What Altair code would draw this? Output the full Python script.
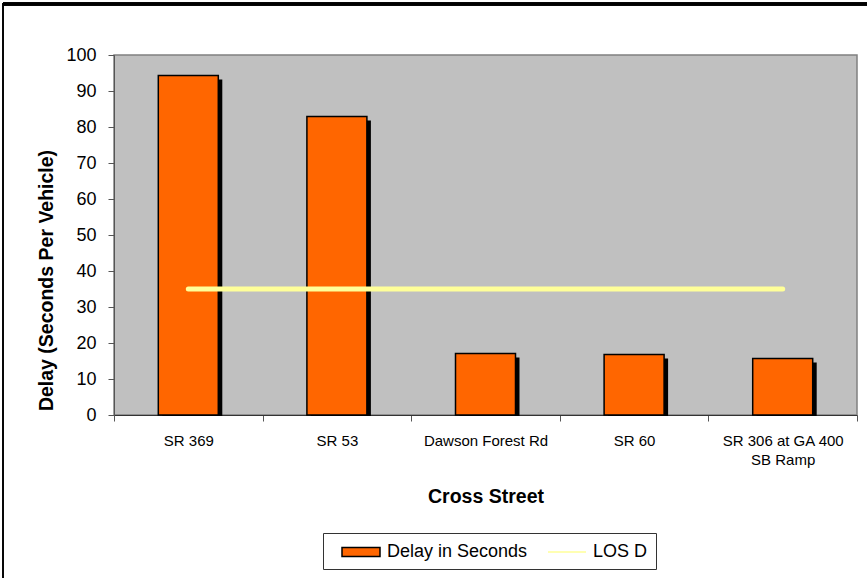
import altair as alt
import pandas as pd

categories = ["SR 369", "SR 53", "Dawson Forest Rd", "SR 60", "SR 306 at GA 400 SB Ramp"]
delay = [94.3, 82.9, 17.1, 16.8, 15.7]
los_d = [35, 35, 35, 35, 35]
series_names = ["Delay in Seconds", "LOS D"]

df = pd.DataFrame({"street": categories, "delay": delay, "los": los_d, "zero": [0] * 5})
leg_df = pd.DataFrame({"series": series_names, "street": categories[:2], "v": [0, 0]})

FONT = "Liberation Sans"
W, H = 743, 360

xaxis = alt.Axis(
    title="Cross Street",
    titleFont=FONT, titleFontSize=19.5, titleFontWeight="bold", titleColor="black",
    titlePadding=20,
    labelFont=FONT, labelFontSize=15, labelColor="black", labelAngle=0,
    labelPadding=12, labelLineHeight=19,
    labelExpr="datum.label == 'SR 306 at GA 400 SB Ramp' ? ['SR 306 at GA 400', 'SB Ramp'] : datum.label",
    tickBand="extent", tickSize=6, tickColor="#555555", domainColor="#333333",
    labelLimit=200, labelOverlap=False,
)
xscale = alt.Scale(paddingInner=0, paddingOuter=0)
xenc = alt.X("street:N", sort=categories, scale=xscale, axis=xaxis)

yscale = alt.Scale(domain=[0, 100], nice=False)
yaxis = alt.Axis(
    title="Delay (Seconds Per Vehicle)",
    titleFont=FONT, titleFontSize=19.5, titleFontWeight="bold", titleColor="black",
    titleX=-62, titleY=225, titleAngle=270, titleAlign="center", titleBaseline="alphabetic",
    labelFont=FONT, labelFontSize=18, labelColor="black", labelPadding=12,
    values=list(range(0, 101, 10)), tickCount=11, tickSize=6, tickColor="#555555",
    domainColor="#555555", grid=False, labelOverlap=False,
)
yenc = lambda f: alt.Y(f, scale=yscale, axis=yaxis)

base = alt.Chart(df)

shadow = base.mark_bar(color="black", size=60, xOffset=4, yOffset=4, y2Offset=1).encode(
    x=xenc, y=yenc("delay:Q"), y2="zero:Q"
)
bars = base.mark_bar(color="#FF6600", size=60, stroke="black", strokeWidth=1.5).encode(
    x=xenc, y=yenc("delay:Q")
)
line = base.mark_line(color="#FFFF99", strokeWidth=5, strokeCap="round").encode(
    x=xenc, y=yenc("los:Q")
)

legend_layer = alt.Chart(leg_df).mark_point(filled=True, strokeWidth=1.5, opacity=1).encode(
    x=xenc,
    y=yenc("v:Q"),
    fill=alt.Fill(
        "series:N", title=None,
        scale=alt.Scale(domain=series_names, range=["#FF6600", "#FFFF99"]),
        legend=alt.Legend(
            orient="none", legendX=209, legendY=478, direction="horizontal",
            labelFont=FONT, labelFontSize=18, labelColor="black",
            symbolSize=400, symbolOffset=19, labelOffset=15,
            columnPadding=9, padding=8,
            strokeColor="#333333", fillColor="white",
        ),
    ),
    stroke=alt.Stroke(
        "series:N", title=None,
        scale=alt.Scale(domain=series_names, range=["black", "#FFFF99"]),
    ),
    shape=alt.Shape(
        "series:N", title=None,
        scale=alt.Scale(domain=series_names, range=["M-1.9,-0.45H1.9V0.45H-1.9Z", "M-1.9,0H1.9"]),
    ),
).transform_filter("datum.v > 1")

frame_top = alt.Chart(df).mark_rule(color="black", strokeWidth=3).encode(
    x=alt.value(-111), x2=alt.value(760), y=alt.value(-51)
)
frame_left = alt.Chart(df).mark_rule(color="black", strokeWidth=1).encode(
    x=alt.value(-111), y=alt.value(-52), y2=alt.value(530)
)

chart = alt.layer(shadow, bars, line, legend_layer, frame_top, frame_left).properties(
    width=W, height=H,
    autosize=alt.AutoSizeParams(type="none"),
    padding={"left": 114, "top": 55, "right": 10, "bottom": 163},
    background="white",
).configure_view(
    fill="#C0C0C0", stroke="#808080", strokeWidth=1.5, clip=False
)

chart.save("out.html", embed_options={"renderer": "svg", "actions": False})
